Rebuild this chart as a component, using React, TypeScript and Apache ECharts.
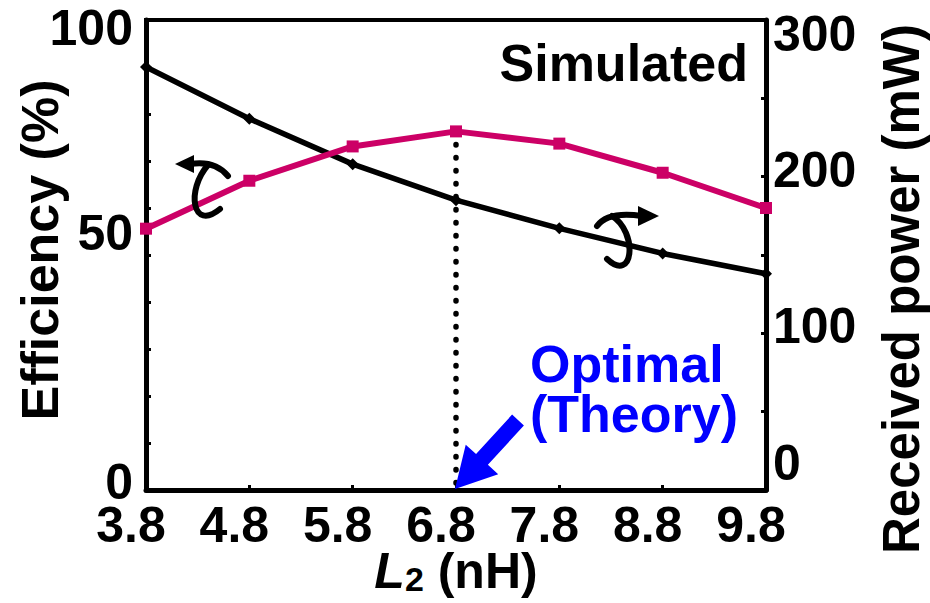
import React, { useEffect, useRef } from "react";
import * as echarts from "echarts";

const xCats = ["3.8", "4.8", "5.8", "6.8", "7.8", "8.8", "9.8"];
const efficiency = [55.6, 65.8, 73.1, 76.3, 73.7, 67.5, 60.0];
const power = [270, 237, 208, 185, 167, 151, 138];
const optimalX = "6.8";
const optimalEff = 76.3;

const FONT = "Liberation Sans, Arial, sans-serif";
const PINK = "#CC0066";
const BLUE = "#0000FF";

function lbl(size: number, extra: any = {}) {
  return { fontFamily: FONT, fontWeight: "bold", fontSize: size, color: "#000", ...extra };
}

function blueArrow(tail: number[], tip: number[]) {
  const dx = tip[0] - tail[0];
  const dy = tip[1] - tail[1];
  const L = Math.hypot(dx, dy);
  const ux = dx / L, uy = dy / L;
  const nx = -uy, ny = ux;
  const headLen = 40, headHalf = 22, shaftHalf = 8;
  const bx = tip[0] - headLen * ux, by = tip[1] - headLen * uy;
  return [
    [tail[0] + nx * shaftHalf, tail[1] + ny * shaftHalf],
    [bx + nx * shaftHalf, by + ny * shaftHalf],
    [bx + nx * headHalf, by + ny * headHalf],
    tip,
    [bx - nx * headHalf, by - ny * headHalf],
    [bx - nx * shaftHalf, by - ny * shaftHalf],
    [tail[0] - nx * shaftHalf, tail[1] - ny * shaftHalf],
  ];
}

export default function App() {
  const ref = useRef<HTMLDivElement>(null);
  useEffect(() => {
    if (!ref.current) return;
    const chart = echarts.init(ref.current, undefined, { renderer: "svg" });
    const stroke = { stroke: "#000", lineWidth: 6, fill: null, lineCap: "round" };
    const LH = 40;
    chart.setOption({
      animation: false,
      backgroundColor: "#fff",
      grid: {
        left: 146,
        right: 164,
        top: 20,
        bottom: 113,
        containLabel: false,
        outerBoundsMode: "none",
        show: true,
        borderColor: "#000",
        borderWidth: 4,
      },
      xAxis: {
        type: "category",
        data: xCats,
        boundaryGap: false,
        nameMoveOverlap: false,
        axisLine: { show: true, lineStyle: { color: "#000", width: 5 } },
        axisTick: { show: true, inside: true, length: 5, lineStyle: { color: "#000", width: 3 } },
        axisLabel: { ...lbl(50), lineHeight: LH, margin: 15, padding: [0, 30, 0, 0] },
        splitLine: { show: false },
        name: "{i|L}{s|2} {n|(nH)}",
        nameLocation: "middle",
        nameGap: 56,
        nameTextStyle: {
          ...lbl(50),
          rich: {
            i: lbl(50, { fontStyle: "italic", lineHeight: 46 }),
            s: lbl(34, { lineHeight: 30, padding: [16, 0, 0, 0] }),
            n: lbl(50, { lineHeight: 46 }),
          },
        },
      },
      yAxis: [
        {
          type: "value",
          min: 0,
          max: 100,
          interval: 10,
          nameMoveOverlap: false,
          axisLine: { show: true, lineStyle: { color: "#000", width: 5 } },
          axisTick: { show: true, inside: true, length: 5, lineStyle: { color: "#000", width: 3 } },
          splitLine: { show: false },
          axisLabel: {
            ...lbl(50),
            lineHeight: LH,
            margin: 13,
            formatter: (v: number) =>
              v === 100 ? "{a|100}" : v === 50 ? "{b|50}" : v === 0 ? "{c|0}" : "",
            rich: {
              a: lbl(50, { lineHeight: LH, padding: [16, 0, 0, 0] }),
              b: lbl(50, { lineHeight: LH, padding: [0, 0, 44, 0] }),
              c: lbl(50, { lineHeight: LH, padding: [0, 0, 16, 0] }),
            },
          },
          name: "Efficiency (%)",
          nameLocation: "middle",
          nameGap: 80,
          nameRotate: 90,
          nameTextStyle: { ...lbl(52), padding: [0, 0, 0, 10] },
        },
        {
          type: "value",
          min: 0,
          max: 300,
          interval: 50,
          position: "right",
          nameMoveOverlap: false,
          axisLine: { show: true, lineStyle: { color: "#000", width: 5 } },
          axisTick: { show: true, inside: true, length: 5, lineStyle: { color: "#000", width: 3 } },
          splitLine: { show: false },
          axisLabel: {
            ...lbl(50),
            lineHeight: LH,
            margin: 7,
            formatter: (v: number) =>
              v === 300 ? "{a|300}" : v === 200 ? "{b|200}" : v === 100 ? "{b|100}" : v === 0 ? "{c|0}" : "",
            rich: {
              a: lbl(50, { lineHeight: LH, padding: [28, 0, 0, 0] }),
              b: lbl(50, { lineHeight: LH, padding: [0, 0, 14, 0] }),
              c: lbl(50, { lineHeight: LH, padding: [0, 0, 54, 0] }),
            },
          },
          name: "Received power (mW)",
          nameLocation: "middle",
          nameGap: 110,
          nameRotate: 90,
          nameTextStyle: { ...lbl(51), padding: [0, 68, 0, 0] },
        },
      ],
      series: [
        {
          name: "Efficiency",
          type: "line",
          yAxisIndex: 0,
          data: efficiency,
          symbol: "rect",
          symbolSize: 12,
          itemStyle: { color: PINK },
          lineStyle: { color: PINK, width: 6 },
          z: 3,
          markLine: {
            silent: true,
            symbol: "none",
            label: { show: false },
            lineStyle: { color: "#000", width: 5.5, type: [0.5, 12.5], cap: "round" },
            data: [[{ coord: [optimalX, optimalEff] }, { coord: [optimalX, 0] }]],
            z: 1,
          },
        },
        {
          name: "Received power",
          type: "line",
          yAxisIndex: 1,
          data: power,
          symbol: "diamond",
          symbolSize: 12,
          itemStyle: { color: "#000" },
          lineStyle: { color: "#000", width: 5.5 },
          z: 2,
        },
      ],
      graphic: [
        {
          type: "text",
          x: 748,
          y: 63,
          style: { text: "Simulated", font: `bold 52px ${FONT}`, fill: "#000", align: "right", verticalAlign: "middle" },
        },
        {
          type: "text",
          x: 530,
          y: 339,
          style: {
            text: "Optimal\n(Theory)",
            font: `bold 52px ${FONT}`,
            fill: BLUE,
            align: "left",
            verticalAlign: "top",
            lineHeight: 50,
          },
        },
        {
          type: "polygon",
          shape: { points: blueArrow([518, 420], [455, 489]) },
          style: { fill: BLUE },
          z: 10,
        },
        // left curly arrow (efficiency -> left axis)
        { type: "polygon", shape: { points: [[175, 164], [194, 155], [194, 173]] }, style: { fill: "#000" }, z: 10 },
        { type: "bezierCurve", shape: { x1: 190, y1: 164, x2: 228, y2: 176, cpx1: 215, cpy1: 160 }, style: stroke, z: 10 },
        {
          type: "bezierCurve",
          shape: { x1: 208, y1: 165, cpx1: 186, cpy1: 190, cpx2: 192, cpy2: 232, x2: 220, y2: 209 },
          style: stroke,
          z: 10,
        },
        // right curly arrow (power -> right axis)
        { type: "polygon", shape: { points: [[659, 216], [638, 206], [638, 226]] }, style: { fill: "#000" }, z: 10 },
        { type: "bezierCurve", shape: { x1: 642, y1: 216, x2: 597, y2: 226, cpx1: 608, cpy1: 211 }, style: stroke, z: 10 },
        {
          type: "bezierCurve",
          shape: { x1: 612, y1: 216, cpx1: 638, cpy1: 232, cpx2: 634, cpy2: 284, x2: 607, y2: 259 },
          style: stroke,
          z: 10,
        },
      ],
    });
    return () => chart.dispose();
  }, []);
  return (
    <div
      ref={ref}
      style={{ position: "fixed", left: 0, top: 0, width: 930, height: 603, background: "#fff" }}
    />
  );
}
